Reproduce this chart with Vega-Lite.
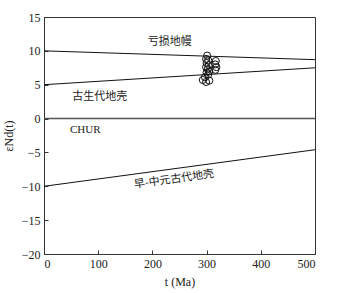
{
  "$schema": "https://vega.github.io/schema/vega-lite/v6.json",
  "width": 271,
  "height": 237,
  "autosize": {"type": "none"},
  "padding": {"left": 44, "top": 17, "right": 24, "bottom": 39},
  "background": "white",
  "config": {
    "view": {"stroke": "#333", "strokeWidth": 1},
    "font": "Liberation Serif",
    "axis": {
      "domainColor": "#333",
      "tickColor": "#333",
      "tickSize": -4,
      "grid": false,
      "labelOverlap": false,
      "labelFont": "Liberation Serif",
      "labelFontSize": 12,
      "labelColor": "#222",
      "titleFont": "Liberation Serif",
      "titleFontSize": 12,
      "titleFontWeight": "normal",
      "titleColor": "#222"
    }
  },
  "datasets": {
    "lines": [
      {"series": "亏损地幔", "t": 0, "value": 10},
      {"series": "亏损地幔", "t": 500, "value": 8.7},
      {"series": "古生代地壳", "t": 0, "value": 5},
      {"series": "古生代地壳", "t": 500, "value": 7.5},
      {"series": "早-中元古代地壳", "t": 0, "value": -10},
      {"series": "早-中元古代地壳", "t": 500, "value": -4.6}
    ],
    "chur": [
      {"t": 0, "value": 0},
      {"t": 500, "value": 0}
    ],
    "samples": [
      {"t": 301, "value": 9.3},
      {"t": 299, "value": 8.8},
      {"t": 303, "value": 8.6},
      {"t": 300, "value": 8.2},
      {"t": 304, "value": 7.9},
      {"t": 299, "value": 7.6},
      {"t": 302, "value": 7.3},
      {"t": 305, "value": 7.0},
      {"t": 300, "value": 6.8},
      {"t": 303, "value": 6.5},
      {"t": 317, "value": 8.5},
      {"t": 316, "value": 8.0},
      {"t": 318, "value": 7.6},
      {"t": 316, "value": 7.2},
      {"t": 297, "value": 6.1},
      {"t": 293, "value": 5.7},
      {"t": 299, "value": 5.4},
      {"t": 305, "value": 5.6}
    ],
    "labels": [
      {"label": "亏损地幔", "t": 232, "value": 11.3},
      {"label": "古生代地壳", "t": 103, "value": 3.2}
    ],
    "chur_label": [
      {"label": "CHUR", "t": 76, "value": -1.7}
    ],
    "rotlabels": [
      {"label": "早-中元古代地壳", "t": 240, "value": -9.0}
    ]
  },
  "encoding": {
    "x": {
      "field": "t", "type": "quantitative",
      "scale": {"domain": [0, 500], "nice": false},
      "axis": {"values": [0, 100, 200, 300, 400, 500], "title": "t (Ma)", "labelPadding": 8, "titlePadding": 7}
    },
    "y": {
      "field": "value", "type": "quantitative",
      "scale": {"domain": [-20, 15], "nice": false},
      "axis": {"values": [-20, -15, -10, -5, 0, 5, 10, 15], "title": "εNd(t)", "labelPadding": 8, "titlePadding": 6}
    }
  },
  "layer": [
    {
      "data": {"name": "chur"},
      "mark": {"type": "line", "color": "#555", "strokeWidth": 1.5}
    },
    {
      "data": {"name": "lines"},
      "mark": {"type": "line", "color": "#111", "strokeWidth": 1},
      "encoding": {
        "detail": {"field": "series"}
      }
    },
    {
      "data": {"name": "samples"},
      "mark": {"type": "point", "shape": "circle", "filled": false, "color": "#111", "strokeWidth": 1, "size": 50, "opacity": 1}
    },
    {
      "data": {"name": "labels"},
      "mark": {"type": "text", "font": "Noto Sans CJK SC", "fontSize": 11, "color": "#222"},
      "encoding": {
        "text": {"field": "label"}
      }
    },
    {
      "data": {"name": "chur_label"},
      "mark": {"type": "text", "font": "Liberation Serif", "fontSize": 11, "color": "#222"},
      "encoding": {
        "text": {"field": "label"}
      }
    },
    {
      "data": {"name": "rotlabels"},
      "mark": {"type": "text", "font": "Noto Sans CJK SC", "fontSize": 11, "color": "#222", "angle": -8},
      "encoding": {
        "text": {"field": "label"}
      }
    }
  ]
}
